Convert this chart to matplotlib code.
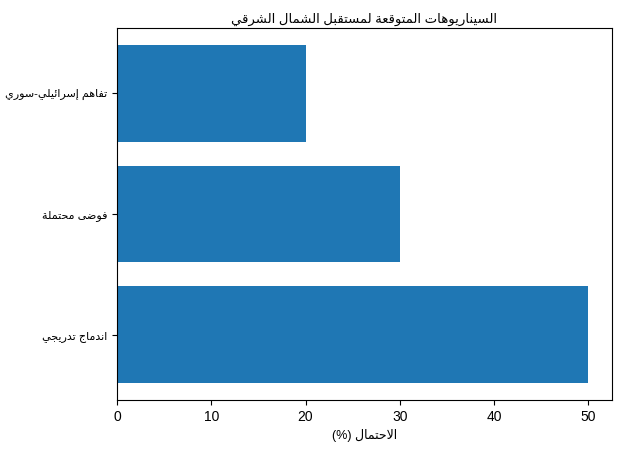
import matplotlib
matplotlib.use('Agg')
import matplotlib.pyplot as plt

title = 'السيناريوهات المتوقعة لمستقبل الشمال الشرقي'
xlabel = 'الاحتمال (%)'
scenarios = ['اندماج تدريجي', 'فوضى محتملة', 'تفاهم إسرائيلي-سوري']
probability = [50, 30, 20]

# presentation forms: isolated, final, initial, medial
FORMS = {
    'ا': (0xFE8D, 0xFE8E), 'إ': (0xFE87, 0xFE88), 'د': (0xFEA9, 0xFEAA),
    'ر': (0xFEAD, 0xFEAE), 'و': (0xFEED, 0xFEEE), 'ى': (0xFEEF, 0xFEF0),
    'ة': (0xFE93, 0xFE94),
    'ب': (0xFE8F, 0xFE90, 0xFE91, 0xFE92), 'ت': (0xFE95, 0xFE96, 0xFE97, 0xFE98),
    'ج': (0xFE9D, 0xFE9E, 0xFE9F, 0xFEA0), 'ح': (0xFEA1, 0xFEA2, 0xFEA3, 0xFEA4),
    'س': (0xFEB1, 0xFEB2, 0xFEB3, 0xFEB4), 'ش': (0xFEB5, 0xFEB6, 0xFEB7, 0xFEB8),
    'ض': (0xFEBD, 0xFEBE, 0xFEBF, 0xFEC0), 'ع': (0xFEC9, 0xFECA, 0xFECB, 0xFECC),
    'ف': (0xFED1, 0xFED2, 0xFED3, 0xFED4), 'ق': (0xFED5, 0xFED6, 0xFED7, 0xFED8),
    'ل': (0xFEDD, 0xFEDE, 0xFEDF, 0xFEE0), 'م': (0xFEE1, 0xFEE2, 0xFEE3, 0xFEE4),
    'ن': (0xFEE5, 0xFEE6, 0xFEE7, 0xFEE8), 'ه': (0xFEE9, 0xFEEA, 0xFEEB, 0xFEEC),
    'ي': (0xFEF1, 0xFEF2, 0xFEF3, 0xFEF4), 'ئ': (0xFE89, 0xFE8A, 0xFE8B, 0xFE8C),
}
MIRROR = {'(': ')', ')': '('}


def shape(text):
    out = []
    chars = list(text)
    i = 0
    while i < len(chars):
        c = chars[i]
        if c not in FORMS:
            out.append(c)
            i += 1
            continue
        prev = chars[i - 1] if i > 0 else ''
        joins_prev = prev in FORMS and len(FORMS[prev]) == 4
        nxt = chars[i + 1] if i + 1 < len(chars) else ''
        if c == 'ل' and nxt == 'ا':
            out.append(chr(0xFEFC if joins_prev else 0xFEFB))
            i += 2
            continue
        f = FORMS[c]
        joins_next = len(f) == 4 and nxt in FORMS
        if joins_prev and joins_next:
            out.append(chr(f[3]))
        elif joins_prev:
            out.append(chr(f[1]))
        elif joins_next:
            out.append(chr(f[2]))
        else:
            out.append(chr(f[0]))
        i += 1
    # right-to-left display
    return ''.join(MIRROR.get(ch, ch) for ch in reversed(out))


plt.rcParams['font.family'] = ['Liberation Sans', 'DejaVu Sans']

fig, ax = plt.subplots(figsize=(6.22, 4.51), dpi=100)
ax.barh([shape(s) for s in scenarios], probability, color='#1f77b4')
ax.set_title(shape(title), fontsize=9.5, pad=4)
ax.set_xlabel(shape(xlabel), fontsize=9)
ax.tick_params(axis='y', labelsize=8)
plt.subplots_adjust(left=0.188, right=0.984, top=0.938, bottom=0.113)
plt.savefig('out.png')
